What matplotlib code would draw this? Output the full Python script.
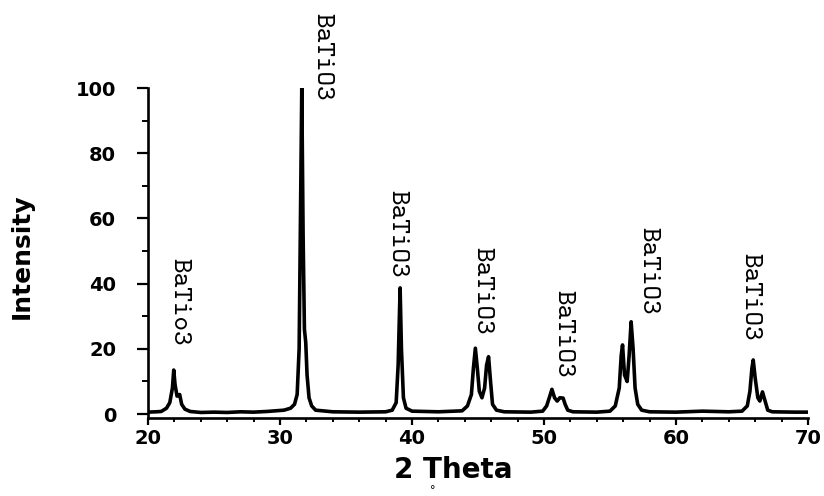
import matplotlib
matplotlib.use("Agg")
import matplotlib.pyplot as plt
from matplotlib.ticker import MultipleLocator

# Diffraction trace: 2-theta (degrees) and relative intensity
two_theta = [
    20.0, 20.6, 21.0, 21.4, 21.65, 21.85, 21.95, 22.05, 22.2, 22.4, 22.55, 22.8, 23.2,
    24.0, 25.0, 26.0, 27.0, 28.0, 29.0, 30.3, 30.8, 31.1, 31.3, 31.45, 31.55, 31.65,
    31.75, 31.85, 31.95, 32.05, 32.2, 32.4, 32.7, 34.0, 36.0, 38.0, 38.5, 38.8, 38.95,
    39.1, 39.2, 39.35, 39.55, 40.0, 42.0, 43.8, 44.2, 44.5, 44.65, 44.8, 44.95, 45.1,
    45.3, 45.5, 45.65, 45.8, 45.95, 46.1, 46.4, 47.0, 49.0, 49.9, 50.2, 50.4, 50.6,
    50.8, 51.0, 51.2, 51.45, 51.6, 51.8, 52.2, 54.0, 55.0, 55.4, 55.7, 55.85, 55.95,
    56.1, 56.3, 56.45, 56.6, 56.75, 56.9, 57.1, 57.4, 58.0, 60.0, 62.0, 64.0, 65.0,
    65.4, 65.6, 65.75, 65.85, 66.0, 66.2, 66.35, 66.55, 66.75, 66.95, 67.3, 69.0, 70.0,
]
intensity = [
    0.6, 0.7, 0.8, 1.8, 3.5, 8.0, 13.5, 9.0, 5.5, 6.0, 3.0, 1.5, 0.8,
    0.5, 0.6, 0.5, 0.7, 0.6, 0.8, 1.2, 1.8, 3.0, 6.0, 20.0, 60.0, 100.0,
    55.0, 26.0, 22.0, 12.0, 5.0, 2.5, 1.2, 0.7, 0.6, 0.7, 1.2, 3.5, 15.0,
    38.7, 20.0, 5.0, 1.8, 0.9, 0.7, 1.0, 2.5, 6.0, 14.0, 20.2, 14.0, 7.0,
    5.0, 8.0, 15.0, 17.6, 10.0, 3.0, 1.2, 0.7, 0.6, 0.9, 2.5, 5.0, 7.6,
    5.0, 4.0, 5.0, 4.9, 3.0, 1.2, 0.7, 0.6, 0.9, 2.5, 8.0, 18.0, 21.2,
    12.0, 10.0, 18.0, 28.3, 20.0, 8.0, 3.0, 1.2, 0.7, 0.6, 0.9, 0.7, 0.9,
    2.5, 7.0, 14.0, 16.6, 11.0, 5.0, 4.0, 6.8, 4.0, 1.2, 0.7, 0.6, 0.6,
]

# Phase labels written beside the reflections
peak_labels = ["BaTio3", "BaTiO3", "BaTiO3", "BaTiO3", "BaTiO3", "BaTiO3", "BaTiO3"]
label_x = [22.36, 33.15, 38.85, 45.3, 51.4, 57.85, 65.6]
label_top = [47.9, 123.0, 68.7, 51.2, 38.0, 57.4, 49.4]

x_ticks = [20, 30, 40, 50, 60, 70]
y_ticks = [0, 20, 40, 60, 80, 100]

W, H = 824, 496
fig = plt.figure(figsize=(W / 100, H / 100), dpi=100)
ax = fig.add_axes([148 / W, (H - 418) / H, (808 - 148) / W, (418 - 88) / H])

ax.plot(two_theta, intensity, color="black", linewidth=2.6, solid_joinstyle="round")

ax.set_xlim(20, 70)
ax.set_ylim(-1.2, 100)
ax.set_xticks(x_ticks)
ax.set_yticks(y_ticks)
ax.xaxis.set_minor_locator(MultipleLocator(2))
ax.yaxis.set_minor_locator(MultipleLocator(10))

for side in ("top", "right"):
    ax.spines[side].set_visible(False)
for side in ("left", "bottom"):
    ax.spines[side].set_linewidth(1.9)

ax.tick_params(axis="y", which="major", direction="out", length=8, width=1.6, pad=15)
ax.tick_params(axis="y", which="minor", direction="out", length=4, width=1.4)
ax.tick_params(axis="x", which="major", direction="out", length=5, width=1.6, pad=3)
ax.tick_params(axis="x", which="minor", direction="out", length=3, width=1.4)

for lab in ax.get_xticklabels() + ax.get_yticklabels():
    lab.set_fontfamily("DejaVu Sans")
    lab.set_fontweight("bold")
    lab.set_fontsize(14)

for text, lx, ly in zip(peak_labels, label_x, label_top):
    ax.text(lx, ly, text, rotation=270, ha="center", va="top",
            family=["cmtt10", "Liberation Mono"], fontsize=20, clip_on=False)

fig.text(22 / W, 1 - 256 / H, "Intensity", rotation=90, ha="center", va="center",
         family="DejaVu Sans", fontweight="bold", fontsize=18)
fig.text(453 / W, 1 - 470 / H, "2 Theta", ha="center", va="center",
         family="DejaVu Sans", fontweight="bold", fontsize=20)
fig.text(433 / W, 1 - 485 / H, "°", ha="center", va="top",
         family="DejaVu Sans", fontsize=8)

fig.savefig("out.png", dpi=100)
